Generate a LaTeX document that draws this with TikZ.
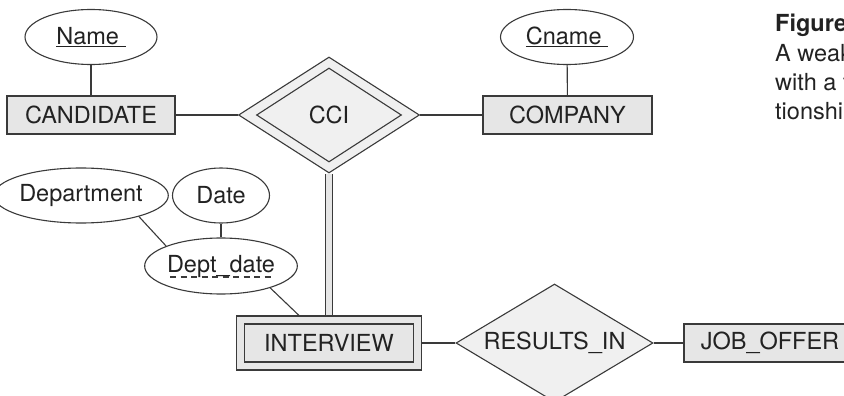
\documentclass[tikz,border=0pt]{standalone}
\usepackage{fontspec}
\setmainfont{TeX Gyre Heros}
\usetikzlibrary{shapes.geometric}
\definecolor{erline}{HTML}{3A3A3A}
\definecolor{entfill}{HTML}{E6E6E6}
\definecolor{relfill}{HTML}{F0F0F0}
\definecolor{ertext}{HTML}{222222}
\newcommand{\keyattr}[1]{\setbox0\hbox{#1}\rlap{\rule[-3pt]{\wd0}{1.1pt}}\box0}
\tikzset{
	erfont/.style={font=\fontsize{23.5}{28}\selectfont, text=ertext},
	entity/.style={rectangle, draw=erline, fill=entfill, line width=1.1pt, inner sep=0pt, minimum height=38pt, erfont},
	attrib/.style={ellipse, draw=erline, fill=white, line width=1.1pt, inner sep=0pt, minimum height=55pt, erfont},
	rel/.style={diamond, draw=erline, fill=relfill, line width=1.1pt, inner sep=0pt, aspect=1.6, erfont},
	link/.style={draw=erline, line width=1.1pt},
	caption/.style={anchor=base west, inner sep=0pt, erfont}
}
\begin{document}
\begin{tikzpicture}[x=1pt,y=-1pt]
		\useasboundingbox (0,0) rectangle (844,396);
		% top row
		\node[attrib,minimum width=132pt] (name) at (91,37) {\keyattr{Name\ }};
		\node[entity,minimum width=168pt] (cand) at (91,115) {CANDIDATE}
			edge[link] (name);
		\node[rel,minimum width=181pt,minimum height=116pt] (cci) at (329,115) {}
			edge[link] (cand);
		\node[rel,minimum width=145pt,minimum height=94pt] (ccii) at (329,115) {CCI};
		\node[entity,minimum width=169pt] (comp) at (567.5,115) {COMPANY}
			edge[link] (cci);
		\node[attrib,minimum width=133pt] (cname) at (567,37) {\keyattr{Cname\ }}
			edge[link] (comp);
		% partial key of INTERVIEW
		\node[attrib,minimum width=144pt] (dept) at (81,195.5) {Department};
		\node[attrib,minimum width=97pt] (date) at (221,195.5) {Date};
		\node[attrib,minimum width=134pt,minimum height=56pt] (dd) at (221,266) {Dept\_date}
			edge[link] (date);
		\draw[link] (dept.-20) -- (dd.160);
		\draw[erline,line width=1.1pt,dash pattern=on 6pt off 4.5pt] ([xshift=-51pt,yshift=-11pt]dd.center) -- ([xshift=53pt,yshift=-11pt]dd.center);
		% weak entity and its relationship
		\node[entity,minimum width=185pt,minimum height=54pt] (intv) at (329,343) {}
			edge[link,double=entfill,double distance=6pt] (cci);
		\node[entity,minimum width=169pt] (intvi) at (329,343) {INTERVIEW};
		\draw[link] (dd.-24) -- ([xshift=-30pt]intv.north);
		\node[rel,minimum width=197pt,minimum height=118pt] (res) at (554.5,343) {RESULTS\_IN}
			edge[link] (intv);
		\node[entity,minimum width=172pt] (job) at (770,343) {JOB\_OFFER}
			edge[link] (res);
		% caption
		\node[caption,font=\bfseries\fontsize{23.5}{28}\selectfont] (figtitle) at (775,32) {Figure};
		\node[caption] (capa) at (775,62) {A weak};
		\node[caption] (capb) at (775,91) {with a t};
		\node[caption] (capc) at (775,120) {tionship};
\end{tikzpicture}
\end{document}
